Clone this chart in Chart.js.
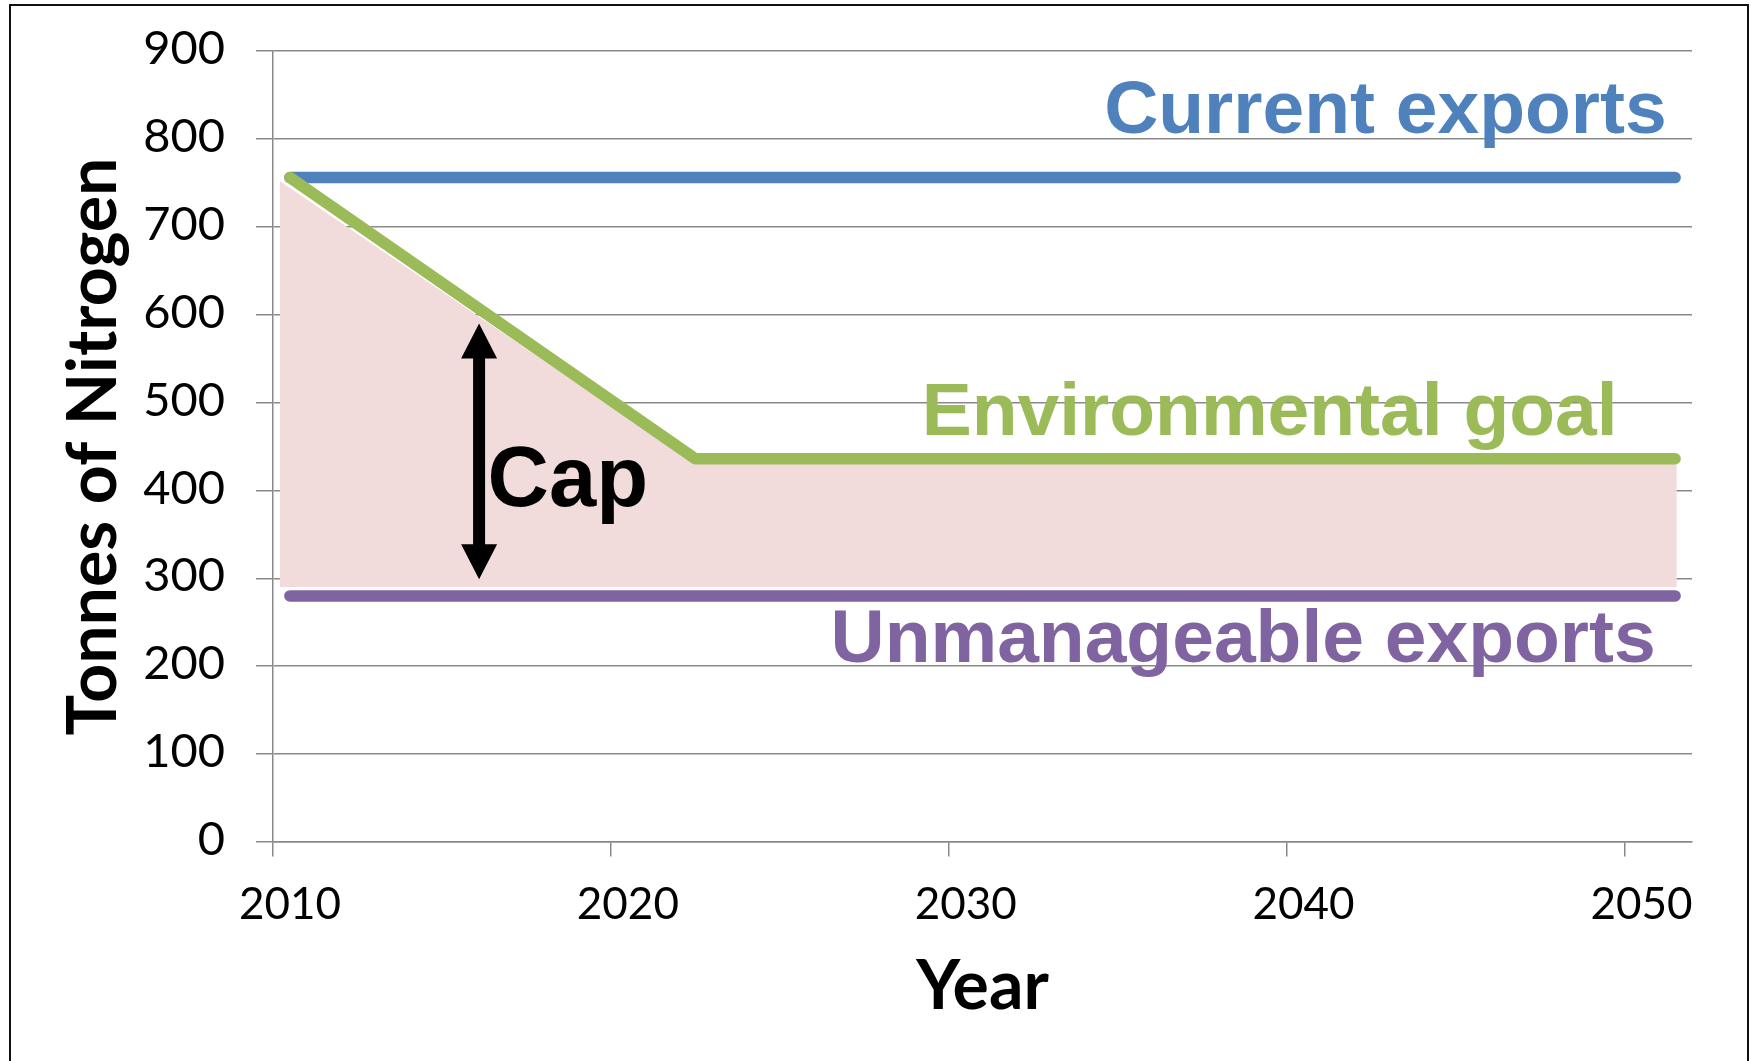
<!DOCTYPE html>
<html>
<head>
<meta charset="utf-8">
<title>Nitrogen exports cap</title>
<script src="https://cdn.jsdelivr.net/npm/chart.js@4.4.1/dist/chart.umd.min.js"></script>
<style>
  html, body { margin: 0; padding: 0; background: #fff; overflow: hidden; }
  #wrap { position: relative; width: 1751px; height: 1061px; }
  #chart { position: absolute; left: 0; top: 0; }
  #frame { position: absolute; left: 9px; top: 4px; width: 1740px; height: 1120px;
           border: 2px solid #111; box-sizing: border-box; pointer-events: none; }
</style>
</head>
<body>
<div id="wrap">
  <canvas id="chart" width="1751" height="1061"></canvas>
  <div id="frame"></div>
</div>
<script>
// ---- data -------------------------------------------------------------
const xTickYears = [2010, 2020, 2030, 2040, 2050];
const yTickValues = [0, 100, 200, 300, 400, 500, 600, 700, 800, 900];

const currentYears = [2010, 2051];
const currentValues = [756, 756];

const goalYears = [2010, 2022, 2051];
const goalValues = [756, 436, 436];

const unmanageableYears = [2010, 2051];
const unmanageableValues = [280, 280];

// shaded band between the goal line and the unmanageable floor
const capBandYears = [2009.7, 2022, 2051.05];
const capBandTop = [752, 430, 430];
const capBandFloor = 290;

// double-headed "Cap" arrow
const capArrowYear = 2015.6;
const capArrowFrom = 299;
const capArrowTo = 590;

// ---- helpers ----------------------------------------------------------
// each year occupies a one-unit slot on the x axis; marks sit mid-slot
const slot = y => y + 0.5;
const points = (xs, ys) => xs.map((x, i) => ({ x: slot(x), y: ys[i] }));

const BLUE = '#4F81BD', GREEN = '#9BBB59', PURPLE = '#8064A2', PINK = '#F2DCDB';
const GRID = '#898989';
const LINE_W = 11.5;

// text labels anchored in data space
const annotations = [
  { text: 'Current exports', color: BLUE, year: 2034.1, value: 806.6, size: 75 },
  { text: 'Environmental goal', color: GREEN, year: 2028.7, value: 462.6, size: 75 },
  { text: 'Unmanageable exports', color: PURPLE, year: 2026.0, value: 204.3, size: 75 },
  { text: 'Cap', color: '#000', year: 2015.85, value: 381.8, size: 85 }
];

const overlayPlugin = {
  id: 'capOverlay',
  afterDatasetsDraw(chart) {
    const { ctx, scales: { x, y } } = chart;
    ctx.save();
    // arrow
    const ax = x.getPixelForValue(slot(capArrowYear));
    const yTop = y.getPixelForValue(capArrowTo);
    const yBot = y.getPixelForValue(capArrowFrom);
    const headL = 35, headW = 18, shaftW = 6;
    ctx.fillStyle = '#000';
    ctx.beginPath();
    ctx.moveTo(ax, yTop);
    ctx.lineTo(ax + headW, yTop + headL);
    ctx.lineTo(ax + shaftW, yTop + headL);
    ctx.lineTo(ax + shaftW, yBot - headL);
    ctx.lineTo(ax + headW, yBot - headL);
    ctx.lineTo(ax, yBot);
    ctx.lineTo(ax - headW, yBot - headL);
    ctx.lineTo(ax - shaftW, yBot - headL);
    ctx.lineTo(ax - shaftW, yTop + headL);
    ctx.lineTo(ax - headW, yTop + headL);
    ctx.closePath();
    ctx.fill();
    // labels
    ctx.textAlign = 'left';
    ctx.textBaseline = 'alphabetic';
    annotations.forEach(a => {
      ctx.font = `bold ${a.size}px "Liberation Sans", Arial, sans-serif`;
      ctx.fillStyle = a.color;
      ctx.fillText(a.text, x.getPixelForValue(slot(a.year)), y.getPixelForValue(a.value));
    });
    ctx.restore();
  }
};

const lineStyle = (color, order) => ({
  borderColor: color,
  backgroundColor: color,
  borderWidth: LINE_W,
  borderCapStyle: 'round',
  borderJoinStyle: 'round',
  pointRadius: 0,
  pointHoverRadius: 0,
  tension: 0,
  fill: false,
  order
});

new Chart(document.getElementById('chart'), {
  type: 'line',
  data: {
    datasets: [
      {
        label: 'Cap',
        data: points(capBandYears, capBandTop),
        borderWidth: 0,
        borderColor: 'rgba(0,0,0,0)',
        backgroundColor: PINK,
        pointRadius: 0,
        tension: 0,
        fill: { value: capBandFloor },
        order: 10
      },
      { label: 'Unmanageable exports', data: points(unmanageableYears, unmanageableValues), ...lineStyle(PURPLE, 3) },
      { label: 'Current exports', data: points(currentYears, currentValues), ...lineStyle(BLUE, 2) },
      { label: 'Environmental goal', data: points(goalYears, goalValues), ...lineStyle(GREEN, 1) }
    ]
  },
  options: {
    responsive: false,
    animation: false,
    devicePixelRatio: 1,
    layout: { padding: { left: 0, top: 51, right: 59, bottom: 0 } },
    plugins: { legend: { display: false }, tooltip: { enabled: false } },
    scales: {
      x: {
        type: 'linear',
        min: 2010,
        max: 2052,
        afterFit(scale) { scale.height = 219; scale.paddingLeft = 0; scale.paddingRight = 0; },
        afterBuildTicks(scale) { scale.ticks = xTickYears.map(v => ({ value: v })); },
        border: { display: true, color: GRID, width: 1.5 },
        grid: { drawOnChartArea: false, drawTicks: true, tickLength: 14.5, color: GRID, lineWidth: 1.5 },
        ticks: {
          color: '#000',
          font: { family: 'Lato', size: 44 },
          padding: 22,
          labelOffset: 17,
          maxRotation: 0,
          autoSkip: false,
          callback: v => String(v)
        },
        title: {
          display: true,
          text: 'Year',
          color: '#000',
          font: { family: 'Lato', size: 68, weight: 'bold' },
          padding: { top: 0, bottom: 33 }
        }
      },
      y: {
        type: 'linear',
        min: 0,
        max: 900,
        afterFit(scale) { scale.width = 273; scale.paddingTop = 0; scale.paddingBottom = 0; },
        afterBuildTicks(scale) { scale.ticks = yTickValues.map(v => ({ value: v })); },
        border: { display: true, color: GRID, width: 1.5 },
        grid: { drawTicks: true, tickLength: 17, color: GRID, lineWidth: 1.5 },
        ticks: {
          color: '#000',
          font: { family: 'Lato', size: 47 },
          padding: 31,
          labelOffset: -2,
          callback: v => String(v)
        },
        title: {
          display: true,
          text: 'Tonnes of Nitrogen',
          color: '#000',
          font: { family: 'Lato', size: 68, weight: 'bold' },
          padding: { top: 53, bottom: 0 }
        }
      }
    }
  },
  plugins: [overlayPlugin]
});
</script>
</body>
</html>
